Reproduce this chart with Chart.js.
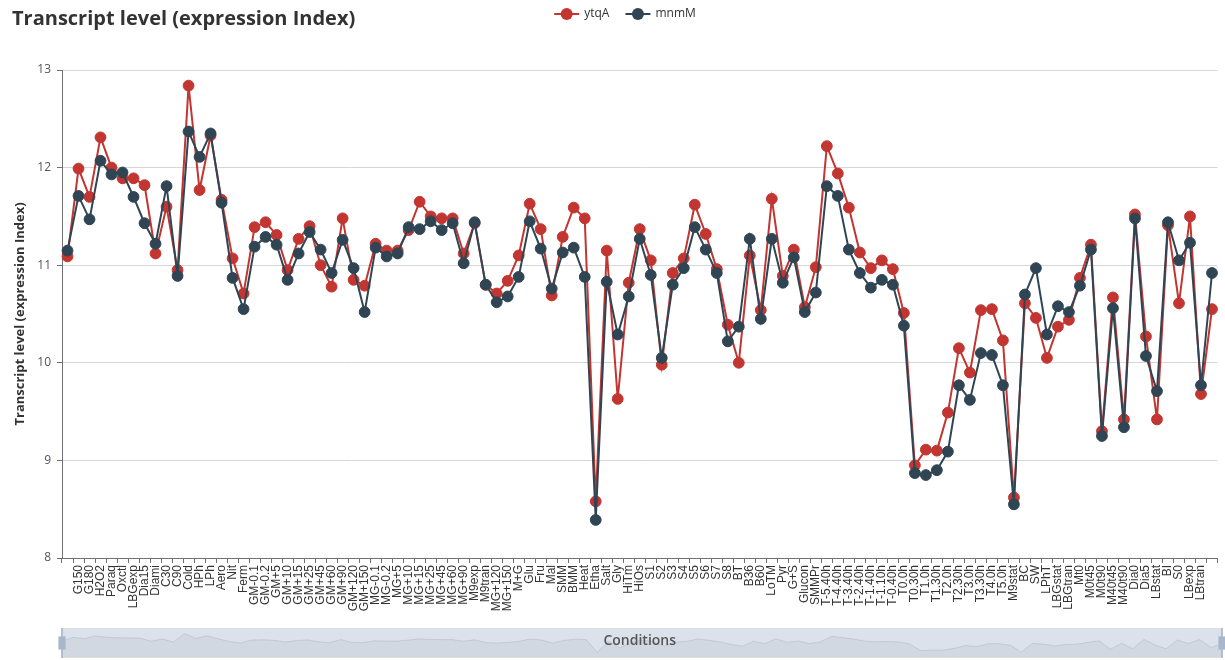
<!DOCTYPE html>
<html>
<head>
<meta charset="utf-8">
<script src="https://cdn.jsdelivr.net/npm/chart.js@4.4.0/dist/chart.umd.min.js"></script>
<style>
  html, body { margin: 0; padding: 0; background: #fff; }
  #wrap { position: relative; width: 1225px; height: 660px; overflow: hidden; }
  #zoomBar { position: absolute; left: 52px; top: 628px; }
  #main { position: absolute; left: 0; top: 0; }
</style>
</head>
<body>
<div id="wrap">
  <canvas id="zoomBar" width="1180" height="30"></canvas>
  <canvas id="main" width="1225" height="660"></canvas>
</div>
<script>
// Growth / stress conditions on the category axis
const conditions = ['G135','G150','G180','H2O2','Paraq','Oxctl','LBGexp','Dia15','Diami','C30','C90','Cold','HPh','LPh','Aero','Nit','Ferm',
  'GM-0.1','GM-0.2','GM+5','GM+10','GM+15','GM+25','GM+45','GM+60','GM+90','GM+120','GM+150',
  'MG-0.1','MG-0.2','MG+5','MG+10','MG+15','MG+25','MG+45','MG+60','MG+90','M9exp','M9tran','MG+120','MG+150','M+G',
  'Glu','Fru','Mal','SMM','BMM','Heat','Etha','Salt','Gly','HiTm','HiOs','S1','S2','S3','S4','S5','S6','S7','S8',
  'BT','B36','B60','LoTM','Pyr','G+S','Glucon','SMMPr',
  'T-5.40h','T-4.40h','T-3.40h','T-2.40h','T-1.40h','T-1.10h','T-0.40h','T0.0h','T0.30h','T1.0h','T1.30h','T2.0h','T2.30h','T3.0h','T3.30h','T4.0h','T5.0h',
  'M9stat','BC','SW','LPhT','LBGstat','LBGtran','Mt0','M0t45','M0t90','M40t45','M40t90','Dia0','Dia5','LBstat','BI','S0','LBexp','LBtran','UNK1'];

// Expression index per condition
const ytqA = [11.09,11.99,11.70,12.31,12.00,11.89,11.89,11.82,11.12,11.60,10.95,12.84,11.77,12.33,11.67,11.07,10.71,
  11.39,11.44,11.31,10.95,11.27,11.40,11.00,10.78,11.48,10.85,10.79,
  11.22,11.15,11.15,11.36,11.65,11.50,11.48,11.48,11.12,11.43,10.80,10.71,10.84,11.10,
  11.63,11.37,10.69,11.29,11.59,11.48,8.58,11.15,9.63,10.82,11.37,11.05,9.98,10.92,11.07,11.62,11.32,10.96,10.39,
  10.00,11.10,10.54,11.68,10.89,11.16,10.57,10.98,
  12.22,11.94,11.59,11.13,10.97,11.05,10.96,10.51,8.95,9.11,9.10,9.49,10.15,9.90,10.54,10.55,10.23,
  8.62,10.61,10.46,10.05,10.37,10.44,10.87,11.21,9.30,10.67,9.42,11.52,10.27,9.42,11.41,10.61,11.50,9.68,10.55];

const mnmM = [11.15,11.71,11.47,12.07,11.93,11.95,11.70,11.43,11.22,11.81,10.89,12.37,12.11,12.35,11.64,10.87,10.55,
  11.19,11.29,11.21,10.85,11.12,11.34,11.16,10.92,11.26,10.97,10.52,
  11.18,11.09,11.12,11.39,11.37,11.45,11.36,11.43,11.02,11.44,10.80,10.62,10.68,10.88,
  11.45,11.17,10.76,11.13,11.18,10.88,8.39,10.83,10.29,10.68,11.27,10.90,10.05,10.80,10.97,11.39,11.16,10.92,10.22,
  10.37,11.27,10.45,11.27,10.82,11.08,10.52,10.72,
  11.81,11.71,11.16,10.92,10.77,10.85,10.80,10.38,8.87,8.85,8.90,9.09,9.77,9.62,10.10,10.08,9.77,
  8.55,10.70,10.97,10.29,10.58,10.52,10.79,11.16,9.25,10.56,9.34,11.48,10.07,9.71,11.44,11.05,11.23,9.77,10.92];

// Value axis range and step
const yMin = 8, yMax = 13, yStep = 1;

const RED = '#c23531';
const NAVY = '#2f4554';

Chart.defaults.font.family = "'Open Sans', sans-serif";

// Title and legend row across the top
const headerPlugin = {
  id: 'header',
  afterDraw(chart) {
    const ctx = chart.ctx;
    ctx.save();
    ctx.fillStyle = '#333';
    ctx.font = "bold 20px 'Open Sans', sans-serif";
    ctx.textAlign = 'left';
    ctx.textBaseline = 'alphabetic';
    ctx.fillText('Transcript level (expression Index)', 12, 25);

    ctx.font = "12px 'Open Sans', sans-serif";
    const iconW = 25, textGap = 5, itemGap = 16, cy = 14;
    const items = chart.data.datasets.map(d => ({ label: d.label, color: d.borderColor, w: iconW + textGap + ctx.measureText(d.label).width }));
    const total = items.reduce((s, it) => s + it.w, 0) + itemGap * (items.length - 1);
    let x = 625 - total / 2;
    items.forEach(it => {
      ctx.strokeStyle = it.color;
      ctx.lineWidth = 2;
      ctx.beginPath();
      ctx.moveTo(x, cy);
      ctx.lineTo(x + iconW, cy);
      ctx.stroke();
      ctx.fillStyle = it.color;
      ctx.beginPath();
      ctx.arc(x + iconW / 2, cy, 6, 0, Math.PI * 2);
      ctx.fill();
      ctx.fillStyle = '#333';
      ctx.textBaseline = 'middle';
      ctx.fillText(it.label, x + iconW + textGap, cy);
      x += it.w + itemGap;
    });
    ctx.restore();
  }
};

new Chart(document.getElementById('main'), {
  type: 'line',
  data: {
    labels: conditions,
    datasets: [
      { label: 'ytqA', data: ytqA, borderColor: RED, backgroundColor: RED, pointBackgroundColor: RED, pointBorderColor: RED,
        borderWidth: 2, pointRadius: 5.4, pointBorderWidth: 1, pointHoverRadius: 6.5, tension: 0, order: 1 },
      { label: 'mnmM', data: mnmM, borderColor: NAVY, backgroundColor: NAVY, pointBackgroundColor: NAVY, pointBorderColor: NAVY,
        borderWidth: 2, pointRadius: 5.4, pointBorderWidth: 1, pointHoverRadius: 6.5, tension: 0, order: 0 }
    ]
  },
  options: {
    responsive: false,
    animation: false,
    layout: { padding: { left: 0, right: 3, top: 70, bottom: 0 } },
    plugins: {
      legend: { display: false },
      tooltip: { mode: 'index', intersect: false }
    },
    scales: {
      x: {
        type: 'category',
        offset: true,
        grid: { display: true, drawOnChartArea: false, offset: true, tickLength: 5, tickColor: '#6e7079' },
        border: { color: '#6e7079', width: 1 },
        ticks: {
          autoSkip: false, minRotation: 90, maxRotation: 90, padding: 2,
          color: '#333',
          font: { family: "'Liberation Sans', Arial, sans-serif", size: 12 },
          // the end labels collide with their neighbours, so they are left out
          callback: (v, i, t) => (i === 0 || i === t.length - 1) ? '' : conditions[i]
        },
        title: {
          display: true, text: 'Conditions', color: '#555',
          font: { size: 14, weight: '600' },
          padding: { top: 0, bottom: 11 }
        },
        afterFit: s => { s.height = 102; s.paddingLeft = 0; s.paddingRight = 0; }
      },
      y: {
        min: yMin, max: yMax,
        ticks: { stepSize: yStep, padding: 6, color: '#555', font: { size: 12 } },
        grid: { color: '#d6d6d6', tickColor: '#6e7079', tickLength: 5 },
        border: { color: '#6e7079', width: 1 },
        title: {
          display: true, text: 'Transcript level (expression Index)', color: '#333',
          font: { size: 13, weight: 'bold' },
          padding: { top: 12, bottom: 0 }
        },
        afterFit: s => { s.width = 62; }
      }
    }
  },
  plugins: [headerPlugin]
});

// Range slider underneath: data shadow of the first series, selected-range filler and handles
const sliderFrame = {
  id: 'sliderFrame',
  afterDraw(chart) {
    const { ctx, chartArea: a } = chart;
    ctx.save();
    ctx.fillStyle = 'rgba(167,183,204,0.4)';
    ctx.fillRect(a.left, a.top, a.right - a.left, a.bottom - a.top);
    ctx.strokeStyle = '#ddd';
    ctx.lineWidth = 1;
    ctx.strokeRect(a.left + 0.5, a.top + 0.5, a.right - a.left - 1, a.bottom - a.top - 1);
    const h = a.bottom - a.top;
    [a.left, a.right].forEach(x => {
      ctx.fillStyle = '#a7b7cc';
      ctx.fillRect(x - 0.85, a.top, 1.7, h);
      ctx.fillRect(x - 3.6, a.top + h * 0.28, 7.2, h * 0.44);
    });
    ctx.restore();
  }
};

const shadowLo = Math.min(...ytqA), shadowHi = Math.max(...ytqA);
const shadowPad = (shadowHi - shadowLo) * 0.3;

new Chart(document.getElementById('zoomBar'), {
  type: 'line',
  data: {
    labels: conditions,
    datasets: [{ data: ytqA, fill: 'start', backgroundColor: 'rgba(47,69,84,0.09)', borderColor: 'rgba(47,69,84,0.3)',
      borderWidth: 0.6, pointRadius: 0, tension: 0 }]
  },
  options: {
    responsive: false,
    animation: false,
    events: [],
    layout: { padding: { left: 10, right: 10, top: 0, bottom: 0 } },
    plugins: { legend: { display: false }, tooltip: { enabled: false } },
    scales: {
      x: { display: false, offset: false },
      y: { display: false, min: shadowLo - shadowPad, max: shadowHi + shadowPad }
    }
  },
  plugins: [sliderFrame]
});
</script>
</body>
</html>
